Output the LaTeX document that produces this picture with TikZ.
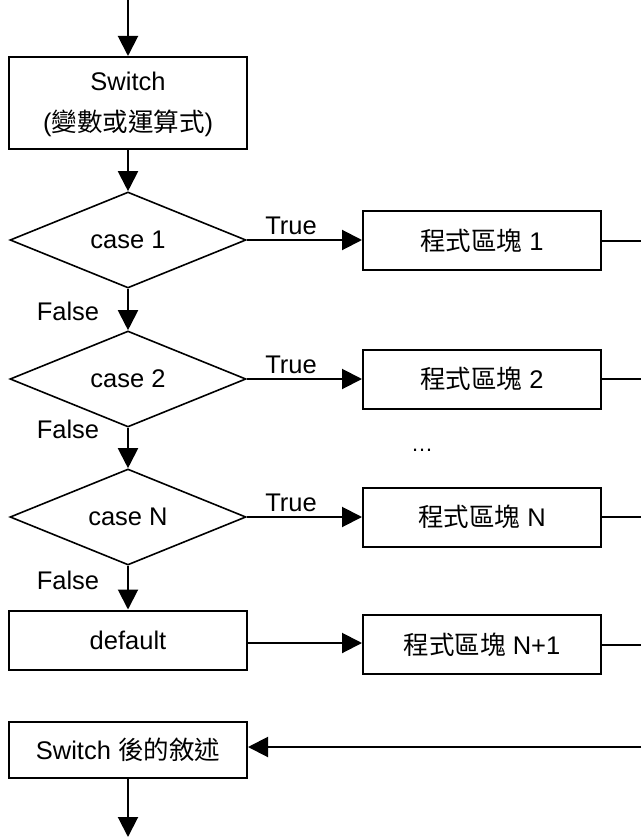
\documentclass[tikz,border=0pt]{standalone}
\usepackage{fontspec}
\setmainfont{Liberation Sans}
\newfontfamily\cjk{Noto Sans CJK TC}
\usetikzlibrary{shapes.geometric,arrows.meta}
\begin{document}
\begin{tikzpicture}[x=1pt,y=1pt,
  every node/.style={font=\fontsize{25.5}{39}\selectfont},
  box/.style={draw, line width=2pt, minimum width=238pt, minimum height=59pt, inner sep=0pt, align=center},
  dia/.style={draw, diamond, line width=1.6pt, aspect=2.46, minimum width=236pt, minimum height=96pt, inner sep=0pt},
  arr/.style={line width=2pt, -{Triangle[length=20pt,width=20pt]}},
  ln/.style={line width=2pt},
  lbl/.style={inner sep=0pt}]
\useasboundingbox (0,0) rectangle (641,-837);
% nodes
\node[box, minimum height=92pt, font=\fontsize{25.5}{41}\selectfont] (sw) at (128,-103) {\raisebox{-5pt}{\begin{tabular}{@{}c@{}}Switch\\({\cjk 變數或運算式})\end{tabular}}};
\node[dia] (d1) at (128,-240) {case 1};
\node[dia] (d2) at (128,-379) {case 2};
\node[dia] (dN) at (128,-517) {case N};
\node[box, minimum height=59pt] (def) at (128,-640) {default};
\node[box, minimum height=56pt] (sa) at (128,-750) {Switch {\cjk 後的敘述}};
\node[box] (b1) at (482,-240.5) {{\cjk 程式區塊} 1};
\node[box] (b2) at (482,-379) {{\cjk 程式區塊} 2};
\node[box] (bN) at (482,-517) {{\cjk 程式區塊} N};
\node[box] (bN1) at (482,-644.5) {{\cjk 程式區塊} N+1};
% labels
\node[lbl] (t1) at (291,-226) {True};
\node[lbl] (t2) at (291,-365) {True};
\node[lbl] (t3) at (291,-503) {True};
\node[lbl] (f1) at (68,-311) {False};
\node[lbl] (f2) at (68,-429) {False};
\node[lbl] (f3) at (68,-580) {False};
\node[lbl, anchor=base, font=\fontsize{22}{26}\selectfont] (dots) at (422,-451) {…};
% free ends
\coordinate (top) at (128,0);
\coordinate (bot) at (128,-837);
\coordinate (r1) at (641,-240.5);
\coordinate (r2) at (641,-379);
\coordinate (rN) at (641,-517);
\coordinate (rN1) at (641,-644.5);
\coordinate (rr) at (641,-747);
% connectors
\draw[arr] (top) -- (sw);
\draw[arr] (sw) -- (d1);
\draw[arr] (d1) -- (d2);
\draw[arr] (d2) -- (dN);
\draw[arr] (dN) -- (def);
\draw[arr] (d1.east) -- (d1.east -| b1.west);
\draw[arr] (d2.east) -- (d2.east -| b2.west);
\draw[arr] (dN.east) -- (dN.east -| bN.west);
\draw[arr] ([yshift=-3pt]def.east) -- ([yshift=-3pt]def.east -| bN1.west);
\draw[ln] (b1.east) -- (r1);
\draw[ln] (b2.east) -- (r2);
\draw[ln] (bN.east) -- (rN);
\draw[ln] (bN1.east) -- (rN1);
\draw[arr] (rr) -- (rr -| sa.east);
\draw[arr] (sa) -- (bot);
\end{tikzpicture}
\end{document}
